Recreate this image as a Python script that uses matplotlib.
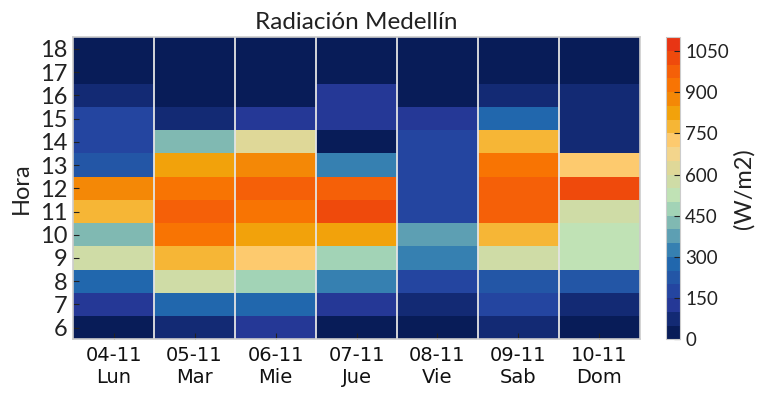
import matplotlib
matplotlib.use("Agg")
import matplotlib.pyplot as plt
import numpy as np
from matplotlib.colors import ListedColormap, BoundaryNorm

# days on the x axis, hours on the y axis
FECHAS = ["04-11", "05-11", "06-11", "07-11", "08-11", "09-11", "10-11"]
DIAS = ["Lun", "Mar", "Mie", "Jue", "Vie", "Sab", "Dom"]
HORAS = list(range(6, 19))

# radiation in W/m2, one list per day, hours 6..18
lun = [25, 125, 275, 575, 425, 775, 875, 225, 175, 175, 75, 25, 25]
mar = [75, 275, 575, 775, 925, 975, 925, 825, 425, 75, 25, 25, 25]
mie = [125, 275, 475, 725, 825, 925, 975, 875, 625, 125, 25, 25, 25]
jue = [25, 125, 325, 475, 825, 1025, 975, 325, 25, 125, 125, 25, 25]
vie = [25, 75, 175, 325, 375, 175, 175, 175, 175, 125, 25, 25, 25]
sab = [75, 175, 225, 575, 775, 975, 975, 925, 775, 275, 75, 25, 25]
dom = [25, 75, 225, 525, 525, 575, 1025, 725, 75, 75, 75, 25, 25]

# colour steps of 50 W/m2
COLORES = [
    "#081c58", "#132a74", "#253896", "#2445a0", "#2356a6", "#2167ad",
    "#3680b1", "#5d9fb3", "#80b9b2", "#a2d3b6", "#c0e2b5", "#cfdca6",
    "#dfd898", "#f3d58c", "#fdca6e", "#f6b636", "#f2a20b", "#f48806",
    "#f87403", "#f56008", "#ef4a0c", "#e83514",
]
NIVELES = np.arange(0, 1101, 50)

datos = np.array([lun, mar, mie, jue, vie, sab, dom]).T

cmap = ListedColormap(COLORES)
norm = BoundaryNorm(NIVELES, cmap.N)

fig = plt.figure(figsize=(7.67, 3.95), dpi=100)
ax = fig.add_axes([0.0952, 0.141, 0.8344 - 0.0952, 0.9056 - 0.141])
cax = fig.add_axes([0.868, 0.141, 0.0189, 0.9056 - 0.141])

x_edges = np.arange(len(FECHAS) + 1) - 0.5
y_edges = np.arange(HORAS[0], HORAS[-1] + 2) - 0.5
mesh = ax.pcolormesh(x_edges, y_edges, datos, cmap=cmap, norm=norm)

# thin light lines between days
ax.vlines(x_edges[1:-1], y_edges[0], y_edges[-1], color="#e4e4e4", lw=1.3)

ax.set_xlim(x_edges[0], x_edges[-1])
ax.set_ylim(y_edges[0], y_edges[-1])
ax.set_xticks(range(len(FECHAS)))
ax.set_xticklabels([f"{f}\n{d}" for f, d in zip(FECHAS, DIAS)],
                   fontsize=14, family="DejaVu Sans", color="#111111")
ax.set_yticks(HORAS)
ax.set_yticklabels([str(h) for h in HORAS], fontsize=17, family="Lato",
                   color="#222222")
ax.tick_params(direction="in", length=4, color="#222222", pad=5)
ax.tick_params(axis="y", pad=4)
for s in ax.spines.values():
    s.set_color("#cccccc")
    s.set_linewidth(1.2)

ax.set_ylabel("Hora", fontsize=17, family="Lato", color="#222222", labelpad=6)
ax.set_title("Radiación Medellín", fontsize=17.5, family="Lato",
             color="#222222", pad=6)

cb = fig.colorbar(mesh, cax=cax, ticks=np.arange(0, 1101, 150))
cb.ax.minorticks_off()
cb.outline.set_edgecolor("#cccccc")
cb.ax.tick_params(direction="in", length=4, color="#222222", labelsize=13.5)
for t in cb.ax.get_yticklabels():
    t.set_family("Lato")
    t.set_color("#222222")
cb.set_label("(W/m2)", fontsize=17, family="Lato", color="#222222",
             labelpad=3)

fig.savefig("out.png", dpi=100)
